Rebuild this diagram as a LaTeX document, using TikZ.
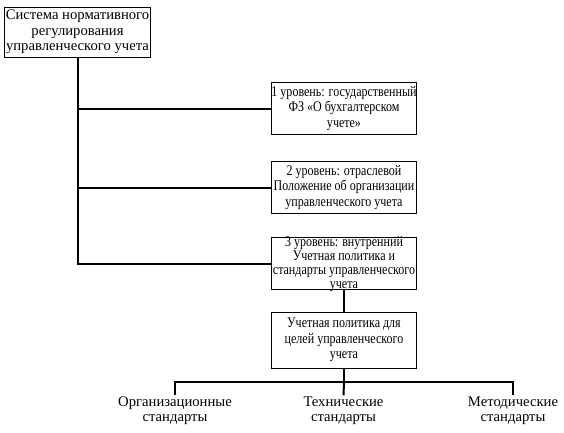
\documentclass[tikz,border=0pt]{standalone}
\usepackage{fontspec}
\setmainfont{Liberation Serif}
\newfontfamily\narrowserif{Liberation Serif}[FakeStretch=0.82]
\begin{document}
\begin{tikzpicture}[x=0.75pt, y=-0.75pt,
    box/.style={draw, line width=0.75pt, minimum width=109pt, minimum height=39pt,
        inner xsep=0pt, inner ysep=1pt, align=center,
        font=\narrowserif\fontsize{11}{11.5}\selectfont},
    lbl/.style={align=center, inner sep=1pt, font=\fontsize{11}{11.5}\selectfont},
    conn/.style={line width=1.5pt}]
    \useasboundingbox (0,0) rectangle (564,432);

    % root of the scheme
    \node[box, minimum width=108.75pt, minimum height=37.5pt, inner xsep=1pt,
        font=\fontsize{11}{11.5}\selectfont] (root) at (77.5,32)
        {Система нормативного\\регулирования\\управленческого учета};

    % three levels
    \node[box] (lvl1) at (344,108.5) {1 уровень: государственный\\ФЗ «О бухгалтерском\\учете»};
    \node[box] (lvl2) at (344,187.5) {2 уровень: отраслевой\\Положение об организации\\управленческого учета};
    % last line runs over the frame
    \node[box, text height=37pt, text depth=0pt,
        font=\narrowserif\fontsize{11}{10.5}\selectfont] (lvl3) at (344,263.5)
        {3 уровень: внутренний\\Учетная политика и\\стандарты управленческого\\учета};

    \node[box, minimum height=42pt] (policy) at (344,340)
        {Учетная политика для\\целей управленческого\\учета};

    % standards
    \node[lbl] (org) at (175,411) {Организационные\\стандарты};
    \node[lbl] (tech) at (343.5,411) {Технические\\стандарты};
    \node[lbl] (met) at (513,411) {Методические\\стандарты};

    % trunk and branches
    \draw[conn] (root.south) |- (lvl3.west);
    \draw[conn] (root.south |- lvl1.west) -- (lvl1.west);
    \draw[conn] (root.south |- lvl2.west) -- (lvl2.west);

    \draw[conn] (lvl3.south) -- (policy.north);
    \coordinate (bus) at (344,382);
    \draw[conn] (policy.south) -- (bus);
    \draw[conn] (org.north) |- (met.north |- bus) -- (met.north);
    \draw[conn] (bus) -- (tech.north);

\end{tikzpicture}
\end{document}
